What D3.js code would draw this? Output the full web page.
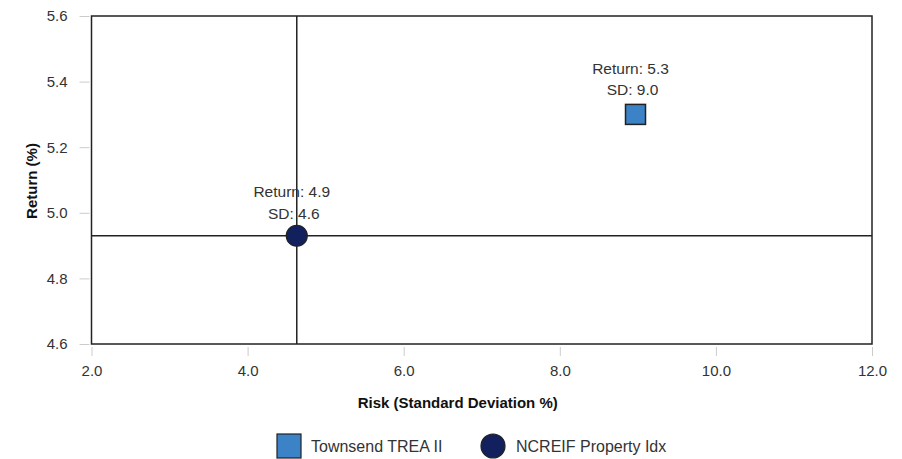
<!DOCTYPE html>
<html><head><meta charset="utf-8">
<script src="https://cdn.jsdelivr.net/npm/d3@7"></script>
<style>body{margin:0;background:#fff;}svg{display:block;font-family:"Liberation Sans",Arial,sans-serif;}</style>
</head><body><svg id="c" width="902" height="459"></svg>
<script>
const seriesNames = ["Townsend TREA II", "NCREIF Property Idx"];
const riskValues = [8.97, 4.63];
const returnValues = [5.30, 4.93];
const labelReturn = ["5.3", "4.9"];
const labelSD = ["9.0", "4.6"];
const seriesColors = ["#3b82c6", "#12205e"];
const xTicks = [2, 4, 6, 8, 10, 12];
const yTicks = [4.6, 4.8, 5.0, 5.2, 5.4, 5.6];

const svg = d3.select("#c");
const L = 91.5, R = 872, T = 16, B = 344;
const x = d3.scaleLinear().domain([2, 12]).range([L, R]);
const y = d3.scaleLinear().domain([4.6, 5.6]).range([B, T]);

const xa = svg.append("g").attr("transform", `translate(0,${B})`)
  .call(d3.axisBottom(x).tickValues(xTicks).tickFormat(d3.format(".1f")).tickSize(12).tickPadding(9));
xa.select(".domain").remove();
xa.selectAll("line").attr("stroke", "#ccc").attr("y1", 3);
xa.selectAll("text").attr("fill", "#333").style("font-size", "15px");

const ya = svg.append("g").attr("transform", `translate(${L},0)`)
  .call(d3.axisLeft(y).tickValues(yTicks).tickFormat(d3.format(".1f")).tickSize(12).tickPadding(12));
ya.select(".domain").remove();
ya.selectAll("line").attr("stroke", "#ccc").attr("x1", -2);
ya.selectAll("text").attr("fill", "#333").style("font-size", "15px");

svg.append("rect").attr("x", L).attr("y", T).attr("width", R - L).attr("height", B - T)
  .attr("fill", "none").attr("stroke", "#222").attr("stroke-width", 1.5);

const bi = 1;
svg.append("line").attr("x1", x(riskValues[bi])).attr("x2", x(riskValues[bi])).attr("y1", T).attr("y2", B)
  .attr("stroke", "#222").attr("stroke-width", 1.5);
svg.append("line").attr("x1", L).attr("x2", R).attr("y1", y(returnValues[bi])).attr("y2", y(returnValues[bi]))
  .attr("stroke", "#222").attr("stroke-width", 1.5);

seriesNames.forEach((n, i) => {
  const cx = x(riskValues[i]), cy = y(returnValues[i]);
  svg.append("text").attr("x", cx - 5).attr("y", cy - (i === 0 ? 40 : 39)).attr("text-anchor", "middle")
    .attr("fill", "#333").style("font-size", "15.5px").text("Return: " + labelReturn[i]);
  svg.append("text").attr("x", cx - 3).attr("y", cy - (i === 0 ? 19 : 17)).attr("text-anchor", "middle")
    .attr("fill", "#333").style("font-size", "15.5px").text("SD: " + labelSD[i]);
});

svg.append("rect").attr("x", x(riskValues[0]) - 10).attr("y", y(returnValues[0]) - 10)
  .attr("width", 20).attr("height", 20).attr("fill", seriesColors[0]).attr("stroke", "#222").attr("stroke-width", 1.5);
svg.append("circle").attr("cx", x(riskValues[1])).attr("cy", y(returnValues[1])).attr("r", 10.5)
  .attr("fill", seriesColors[1]).attr("stroke", "#222").attr("stroke-width", 1.2);

svg.append("text").attr("x", (L + R) / 2 - 24).attr("y", 408).attr("text-anchor", "middle")
  .attr("fill", "#111").style("font-size", "15px").style("font-weight", "bold").text("Risk (Standard Deviation %)");
svg.append("text").attr("transform", `translate(37,${(T + B) / 2 + 1}) rotate(-90)`).attr("text-anchor", "middle")
  .attr("fill", "#111").style("font-size", "15px").style("font-weight", "bold").text("Return (%)");

const lg = svg.append("g");
lg.append("rect").attr("x", 277).attr("y", 434).attr("width", 24).attr("height", 24)
  .attr("fill", seriesColors[0]).attr("stroke", "#222").attr("stroke-width", 1.2);
lg.append("text").attr("x", 311).attr("y", 452).attr("fill", "#333").style("font-size", "16px").text(seriesNames[0]);
lg.append("circle").attr("cx", 493).attr("cy", 446).attr("r", 12)
  .attr("fill", seriesColors[1]).attr("stroke", "#222").attr("stroke-width", 1.2);
lg.append("text").attr("x", 516).attr("y", 452).attr("fill", "#333").style("font-size", "16px").text(seriesNames[1]);
</script></body></html>
